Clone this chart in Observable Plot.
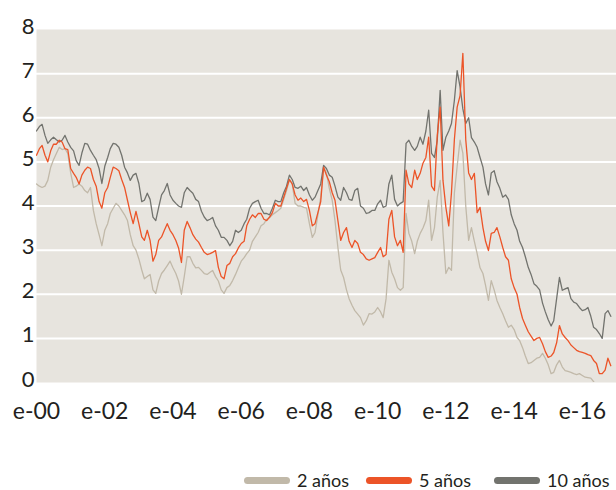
<!DOCTYPE html>
<html>
<head>
<meta charset="utf-8">
<script src="https://cdn.jsdelivr.net/npm/d3@7"></script>
<script src="https://cdn.jsdelivr.net/npm/@observablehq/plot@0.6"></script>
<style>
  body { margin: 0; background: #ffffff; font-family: Lato, "Open Sans", sans-serif; overflow: hidden; }
  #chart { width: 616px; height: 440px; position: relative; }
  #legend { position: relative; width: 616px; height: 18px; margin-top: 31px; font-size: 18px; line-height: 18px; color: #231f20; }
  .item { position: absolute; top: 0; display: flex; align-items: center; height: 18px; line-height: 18px; white-space: nowrap; }
  .sw { width: 46px; height: 7px; border-radius: 4px; margin-right: 7px; }
</style>
</head>
<body>
<div id="chart"></div>
<div id="legend"></div>
<script>
// Monthly values, first value = January 2000
const startYear = 2000;
const seriesNames = ["2 años", "5 años", "10 años"];
const seriesColors = ["#c1b9a9", "#ec5428", "#72736e"];

const y2 = [
  4.50, 4.45, 4.42, 4.45, 4.58, 4.88, 5.05, 5.19, 5.33, 5.28, 5.30, 5.19,
  4.75, 4.42, 4.45, 4.50, 4.45, 4.35, 4.30, 4.42, 3.90, 3.60, 3.35, 3.10,
  3.45, 3.60, 3.83, 3.95, 4.06, 4.00, 3.90, 3.80, 3.67, 3.35, 3.10, 3.00,
  2.80, 2.55, 2.35, 2.40, 2.45, 2.10, 2.02, 2.30, 2.47, 2.55, 2.65, 2.75,
  2.60, 2.47, 2.30, 2.00, 2.40, 2.85, 2.85, 2.70, 2.60, 2.61, 2.54, 2.47,
  2.45, 2.50, 2.54, 2.40, 2.30, 2.10, 2.02, 2.15, 2.20, 2.31, 2.45, 2.60,
  2.75, 2.83, 2.92, 3.00, 3.20, 3.30, 3.40, 3.55, 3.60, 3.70, 3.74, 3.80,
  3.85, 3.90, 3.95, 4.15, 4.35, 4.60, 4.50, 4.06, 4.00, 4.00, 3.97, 3.95,
  3.60, 3.29, 3.40, 3.80, 4.20, 4.88, 4.75, 4.40, 4.13, 3.67, 3.06, 2.55,
  2.38, 2.10, 1.90, 1.75, 1.63, 1.55, 1.47, 1.30, 1.40, 1.56, 1.55, 1.60,
  1.70, 1.60, 1.47, 1.90, 2.77, 2.50, 2.35, 2.15, 2.09, 2.15, 3.83, 3.38,
  3.20, 2.92, 3.20, 3.38, 3.50, 3.67, 4.13, 3.22, 3.51, 4.20, 4.58, 3.40,
  2.47, 2.61, 2.54, 4.29, 4.90, 5.49, 5.20, 4.00, 3.22, 3.51, 3.20, 2.92,
  2.60, 2.47, 2.20, 1.86, 2.31, 2.10, 1.86, 1.70, 1.56, 1.40, 1.25, 1.30,
  1.20, 1.02, 0.95, 0.79, 0.60, 0.43, 0.45, 0.50, 0.55, 0.57, 0.66, 0.55,
  0.40, 0.20, 0.23, 0.40, 0.50, 0.35, 0.27, 0.25, 0.23, 0.20, 0.18, 0.20,
  0.16, 0.12, 0.11, 0.10, 0.02, -0.10, -0.15, -0.20, -0.20, -0.10, -0.05
];

const y5 = [
  5.15, 5.30, 5.37, 5.15, 5.00, 5.25, 5.40, 5.40, 5.49, 5.45, 5.30, 5.28,
  4.85, 4.74, 4.65, 4.50, 4.70, 4.81, 4.88, 4.85, 4.60, 4.45, 4.10, 3.95,
  4.30, 4.42, 4.65, 4.88, 4.85, 4.80, 4.60, 4.42, 4.13, 3.85, 3.60, 3.88,
  3.60, 3.30, 3.22, 3.45, 3.22, 2.75, 2.90, 3.22, 3.30, 3.45, 3.60, 3.45,
  3.35, 3.22, 3.05, 2.72, 3.45, 3.65, 3.51, 3.35, 3.25, 3.18, 3.06, 2.95,
  2.90, 2.92, 2.95, 2.99, 2.61, 2.40, 2.35, 2.65, 2.70, 2.85, 2.92, 3.05,
  3.15, 3.20, 3.55, 3.70, 3.80, 3.74, 3.83, 3.83, 3.70, 3.67, 3.75, 3.85,
  4.06, 4.00, 4.00, 4.20, 4.40, 4.60, 4.50, 4.25, 4.13, 4.18, 4.10, 4.15,
  3.90, 3.55, 3.60, 3.85, 4.10, 4.88, 4.70, 4.55, 4.30, 4.13, 3.67, 3.22,
  3.40, 3.51, 3.20, 3.06, 3.22, 3.15, 2.95, 2.90, 2.80, 2.77, 2.80, 2.83,
  2.95, 3.06, 2.85, 2.90, 3.70, 3.90, 3.30, 3.10, 3.22, 2.95, 4.81, 4.50,
  4.42, 4.81, 4.60, 4.74, 4.97, 5.10, 5.56, 4.45, 4.35, 5.60, 6.24, 4.58,
  3.97, 3.55, 4.30, 5.50, 6.24, 6.50, 7.46, 5.50, 4.75, 4.60, 4.74, 3.85,
  3.97, 3.51, 3.20, 2.99, 3.38, 3.40, 3.51, 3.30, 3.06, 2.85, 2.77, 2.35,
  2.15, 2.00, 1.70, 1.45, 1.30, 1.15, 1.05, 0.95, 1.00, 1.02, 0.88, 0.70,
  0.57, 0.60, 0.68, 0.90, 1.29, 1.10, 1.02, 0.95, 0.85, 0.79, 0.73, 0.70,
  0.68, 0.66, 0.63, 0.61, 0.50, 0.43, 0.20, 0.20, 0.28, 0.55, 0.38
];

const y10 = [
  5.70, 5.80, 5.85, 5.60, 5.42, 5.50, 5.56, 5.50, 5.45, 5.49, 5.60, 5.45,
  5.33, 5.25, 5.03, 4.92, 5.20, 5.42, 5.40, 5.26, 5.15, 5.05, 4.85, 4.51,
  4.90, 5.10, 5.30, 5.42, 5.40, 5.33, 5.15, 4.88, 4.75, 4.58, 4.70, 4.74,
  4.51, 4.10, 4.13, 4.29, 4.15, 3.75, 3.67, 3.97, 4.25, 4.35, 4.51, 4.25,
  4.13, 4.06, 4.00, 3.97, 4.30, 4.42, 4.35, 4.29, 4.15, 4.10, 3.88, 3.75,
  3.67, 3.70, 3.74, 3.55, 3.45, 3.29, 3.29, 3.22, 3.10, 3.20, 3.45, 3.40,
  3.45, 3.60, 3.70, 3.95, 4.06, 4.10, 4.13, 3.95, 3.83, 3.83, 3.80, 3.95,
  4.13, 4.10, 4.10, 4.30, 4.45, 4.70, 4.60, 4.42, 4.40, 4.45, 4.35, 4.42,
  4.25, 4.13, 4.20, 4.35, 4.50, 4.92, 4.85, 4.70, 4.65, 4.45, 4.20, 4.13,
  4.42, 4.30, 4.15, 4.13, 4.35, 4.40, 4.00, 3.95, 3.83, 3.85, 3.90, 3.90,
  4.05, 4.13, 3.97, 4.00, 4.50, 4.70, 4.15, 4.00, 4.06, 4.10, 5.42, 5.49,
  5.35, 5.26, 5.35, 5.56, 5.40, 5.70, 6.17, 5.19, 5.10, 5.49, 6.62, 5.26,
  5.56, 5.70, 5.87, 6.39, 7.07, 6.70, 6.20, 5.87, 6.00, 5.55, 5.45, 5.33,
  5.10, 4.88, 4.50, 4.25, 4.75, 4.80, 4.55, 4.40, 4.20, 4.25, 4.15, 3.80,
  3.60, 3.45, 3.20, 3.06, 2.85, 2.61, 2.45, 2.24, 2.18, 2.10, 1.80, 1.60,
  1.42, 1.28, 1.40, 1.90, 2.38, 2.09, 2.12, 2.15, 1.90, 1.82, 1.79, 1.70,
  1.63, 1.65, 1.70, 1.50, 1.25, 1.20, 1.11, 1.00, 1.56, 1.63, 1.50
];

const xTickYears = [2000, 2002, 2004, 2006, 2008, 2010, 2012, 2014, 2016];
const yTicks = [0, 1, 2, 3, 4, 5, 6, 7, 8];
const gridValues = [1, 2, 3, 4, 5, 6, 7];
const xEndYear = 2017;

const monthDate = i => new Date(Date.UTC(startYear, i, 1));
const toRows = (vals, name) => vals.map((v, i) => ({date: monthDate(i), value: v, serie: name}));
const allSeries = [y2, y5, y10].map((vals, k) => toRows(vals, seriesNames[k]));
const tickDates = xTickYears.map(y => new Date(Date.UTC(y, 0, 1)));

// draw order: 2 años, 10 años, 5 años on top
const drawOrder = [0, 2, 1];

const chart = Plot.plot({
  width: 616,
  height: 440,
  marginLeft: 36,
  marginRight: 0,
  marginTop: 29,
  marginBottom: 58,
  style: {fontFamily: "Lato, 'Open Sans', sans-serif", color: "#231f20", background: "transparent"},
  x: {type: "utc", domain: [new Date(Date.UTC(startYear, 0, 1)), new Date(Date.UTC(xEndYear, 0, 1))], label: null},
  y: {domain: [0, 8], label: null},
  marks: [
    Plot.frame({fill: "#e7e4de", stroke: "none"}),
    Plot.ruleY(gridValues, {stroke: "#ffffff", strokeWidth: 2}),
    ...drawOrder.map(k => Plot.line(allSeries[k], {
      x: "date", y: "value", stroke: seriesColors[k], strokeWidth: 1.3, clip: true
    })),
    Plot.axisX(tickDates, {
      tickSize: 0, tickPadding: 20, fontSize: 23, label: null,
      tickFormat: d => "e-" + String(d.getUTCFullYear()).slice(2)
    }),
    Plot.axisY(yTicks, {tickSize: 0, tickPadding: 2, dy: -3, fontSize: 22, label: null})
  ]
});
document.getElementById("chart").appendChild(chart);

const legendLeft = [244, 366, 494];
const legend = document.getElementById("legend");
seriesNames.forEach((name, k) => {
  const item = document.createElement("div");
  item.className = "item";
  item.style.left = legendLeft[k] + "px";
  const sw = document.createElement("div");
  sw.className = "sw";
  sw.style.background = seriesColors[k];
  const label = document.createElement("span");
  label.textContent = name;
  item.appendChild(sw);
  item.appendChild(label);
  legend.appendChild(item);
});
</script>
</body>
</html>
